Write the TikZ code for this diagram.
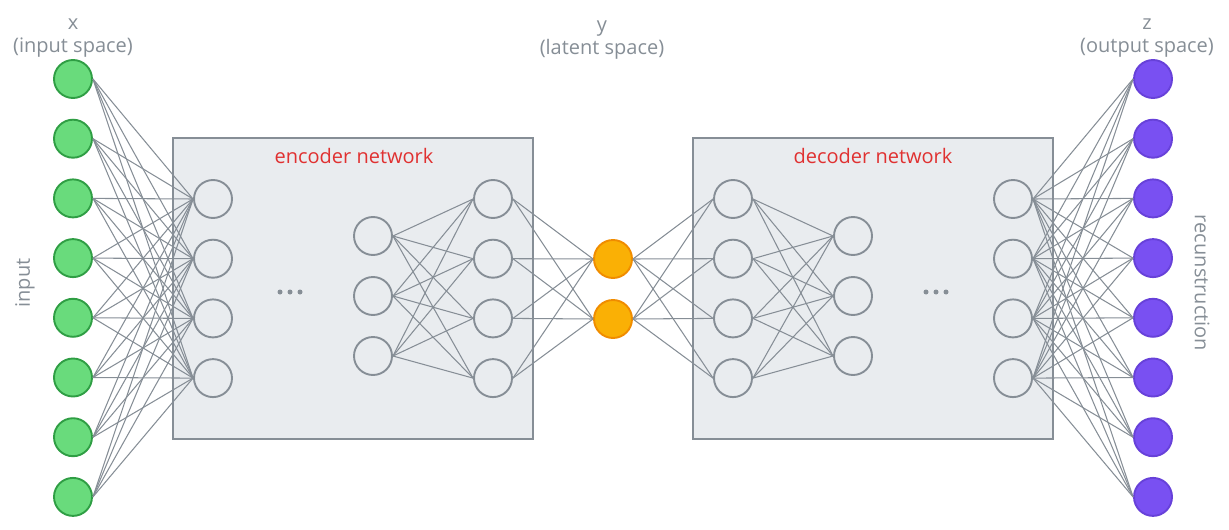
\documentclass[tikz,border=0pt]{standalone}
\usepackage{fontspec}
\setmainfont{Open Sans}
\definecolor{nodegray}{HTML}{868E96}
\definecolor{linegray}{HTML}{868E96}
\definecolor{boxfill}{HTML}{E9ECEF}
\definecolor{txtgray}{HTML}{868E96}
\definecolor{redtxt}{HTML}{E03131}
\definecolor{gfill}{HTML}{69DB7C}
\definecolor{gdraw}{HTML}{2F9E44}
\definecolor{pfill}{HTML}{7950F2}
\definecolor{pdraw}{HTML}{6741D9}
\definecolor{ofill}{HTML}{FAB005}
\definecolor{odraw}{HTML}{F08C00}
\begin{document}
\begin{tikzpicture}[x=1pt,y=-1pt,
  neuron/.style={circle, draw=nodegray, line width=1.9pt, minimum size=38pt, inner sep=0pt},
  innode/.style={neuron, draw=gdraw, fill=gfill},
  outnode/.style={neuron, draw=pdraw, fill=pfill},
  latnode/.style={neuron, draw=odraw, fill=ofill},
  edge/.style={draw=linegray, line width=1.05pt},
  netbox/.style={draw=nodegray, fill=boxfill, line width=1.1pt, minimum width=360pt, minimum height=301pt, inner sep=0pt},
  lbl/.style={text=txtgray, font=\fontsize{20}{23}\selectfont, align=center, inner sep=0pt},
  redlbl/.style={text=redtxt, font=\fontsize{20}{23}\selectfont, inner sep=0pt},
  dot/.style={circle, fill=nodegray, minimum size=5pt, inner sep=0pt}
]
\useasboundingbox (0,0) rectangle (1229,530);
% boxes
\node[netbox] (encbox) at (353,288.5) {};
\node[netbox] (decbox) at (873,288.5) {};
\node[redlbl] (enclbl) at (354,156) {encoder network};
\node[redlbl] (declbl) at (873,156) {decoder network};
% top labels
\node[lbl] (xlbl) at (73,38) {x\\(input space)};
\node[lbl] (ylbl) at (602,40) {y\\(latent space)};
\node[lbl] (zlbl) at (1147,38) {z\\(output space)};
\node[lbl, rotate=90] (inlbl) at (25,283) {input};
\node[lbl, rotate=-90] (reclbl) at (1202,283) {recunstruction};
% dots
\foreach \i in {0,1,2} {
  \node[dot] (ed\i) at (280+10*\i,292) {};
  \node[dot] (dd\i) at (926+10*\i,292) {};
}
% input / output layers
\foreach \i in {1,...,8} {
  \node[innode] (x\i) at (73,{79+59.7*(\i-1)}) {};
  \node[outnode] (z\i) at (1153,{79+59.7*(\i-1)}) {};
}
% 4-node layers
\foreach \i in {1,...,4} {
  \node[neuron] (ea\i) at (213,{199+59.7*(\i-1)}) {};
  \node[neuron] (ec\i) at (493,{199+59.7*(\i-1)}) {};
  \node[neuron] (da\i) at (733,{199+59.7*(\i-1)}) {};
  \node[neuron] (dc\i) at (1013,{199+59.7*(\i-1)}) {};
}
% 3-node layers
\foreach \i in {1,2,3} {
  \node[neuron] (eb\i) at (373,{236+60*(\i-1)}) {};
  \node[neuron] (db\i) at (853,{236+60*(\i-1)}) {};
}
% latent
\node[latnode] (y1) at (613,259) {};
\node[latnode] (y2) at (613,319) {};
% connections
\foreach \i in {1,...,8} \foreach \j in {1,...,4} {
  \draw[edge] (x\i.east) -- (ea\j.west);
  \draw[edge] (dc\j.east) -- (z\i.west);
}
\foreach \i in {1,2,3} \foreach \j in {1,...,4} {
  \draw[edge] (eb\i.east) -- (ec\j.west);
  \draw[edge] (da\j.east) -- (db\i.west);
}
\foreach \i in {1,2} \foreach \j in {1,...,4} {
  \draw[edge] (ec\j.east) -- (y\i.west);
  \draw[edge] (y\i.east) -- (da\j.west);
}
\end{tikzpicture}
\end{document}
